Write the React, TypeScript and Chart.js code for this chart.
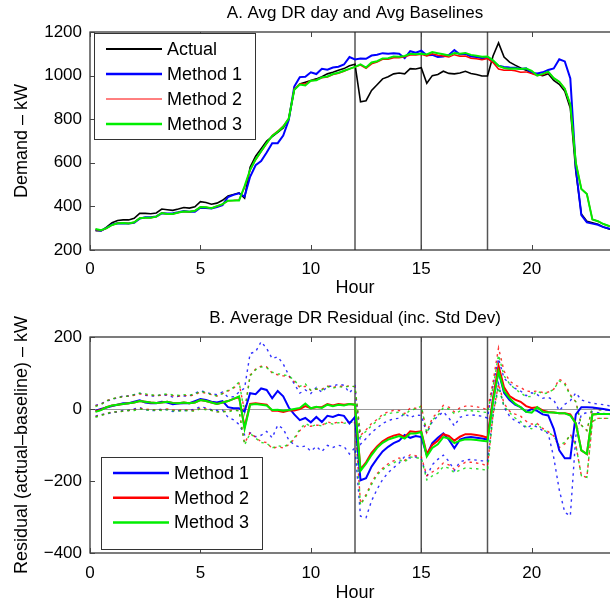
import React, { useEffect, useRef } from 'react';
import { Chart, registerables } from 'chart.js';

Chart.register(...registerables);

const FONT = '"Liberation Sans", Arial, Helvetica, sans-serif';

const hours = [
  0.25, 0.5, 0.75, 1, 1.25, 1.5, 1.75, 2,
  2.25, 2.5, 2.75, 3, 3.25, 3.5, 3.75, 4,
  4.25, 4.5, 4.75, 5, 5.25, 5.5, 5.75, 6,
  6.25, 6.5, 6.75, 7, 7.25, 7.5, 7.75, 8,
  8.25, 8.5, 8.75, 9, 9.25, 9.5, 9.75, 10,
  10.25, 10.5, 10.75, 11, 11.25, 11.5, 11.75, 12,
  12.25, 12.5, 12.75, 13, 13.25, 13.5, 13.75, 14,
  14.25, 14.5, 14.75, 15, 15.25, 15.5, 15.75, 16,
  16.25, 16.5, 16.75, 17, 17.25, 17.5, 17.75, 18,
  18.25, 18.5, 18.75, 19, 19.25, 19.5, 19.75, 20,
  20.25, 20.5, 20.75, 21, 21.25, 21.5, 21.75, 22,
  22.25, 22.5, 22.75, 23, 23.25, 23.5, 23.75, 24,
];

// Average demand on DR days (kW)
const actual = [
  288, 288, 305, 325, 335, 338, 338, 345,
  368, 368, 366, 370, 388, 385, 382, 388,
  395, 392, 398, 422, 418, 410, 415, 428,
  448, 455, 462, 438, 580, 630, 665, 700,
  720, 740, 760, 800, 935, 962, 970, 978,
  985, 995, 1008, 1015, 1025, 1032, 1045, 1052,
  880, 885, 932, 958, 985, 995, 1008, 1012,
  1008, 1032, 1030, 1036, 965, 1000, 1005, 1020,
  1010, 1008, 1012, 1020, 1010, 1005, 998, 998,
  1090, 1150, 1085, 1062, 1048, 1035, 1025, 1012,
  1005, 1000, 1008, 978, 960, 928, 850, 560,
  365, 332, 325, 318, 305, 296, 292, 290,
];

// Average residual (actual - baseline), kW
const resid1 = [
  -5, 0, 4, 8, 12, 16, 16, 20,
  24, 18, 16, 16, 20, 18, 13, 15,
  16, 16, 22, 28, 25, 20, 18, 22,
  5, 2, 2, -7, 44, 41, 57, 53,
  30, 50, 35, 4, -15, -31, -25, -37,
  -22, -36, -19, -22, -16, -19, -40, -22,
  -198, -192, -160, -138, -118, -105, -95, -88,
  -72, -80, -75, -78, -128, -95, -80, -68,
  -85, -109, -85, -80, -78, -80, -82, -85,
  25, 105, 45, 25, 12, 5, -8, 0,
  -5, -15, -18, -55, -115, -137, -137, -15,
  5, 5, 4, 2, 0, -3, -5, -5,
];
const resid2 = [
  -6, -2, 5, 10, 12, 14, 16, 18,
  22, 20, 18, 17, 18, 20, 17, 16,
  18, 16, 18, 25, 22, 18, 14, 18,
  22, 28, 33, -50, 14, 16, 14, 12,
  -5, -5, -8, -4, -4, 0, 8, 2,
  5, 5, 14, 10, 14, 12, 14, 12,
  -168, -148, -122, -104, -90, -80, -74, -70,
  -78, -62, -64, -62, -125, -100, -88, -70,
  -75, -88, -77, -70, -70, -72, -75, -80,
  30, 120, 60, 36, 26, 20, 8, 3,
  5, -4, -8, -10, -12, -12, -15, -40,
  -115, -125, -15, -14, -14, -14, -14, -14,
];
const resid3 = [
  -8, -3, 5, 10, 12, 14, 16, 18,
  22, 20, 18, 17, 18, 20, 17, 16,
  18, 16, 18, 25, 22, 18, 14, 18,
  22, 28, 35, -55, 12, 14, 12, 10,
  -3, -2, -5, -3, 0, 3, 15, 2,
  6, 3, 12, 8, 12, 10, 14, 12,
  -172, -152, -128, -108, -94, -85, -80, -75,
  -82, -68, -68, -64, -132, -108, -98, -78,
  -82, -95, -88, -84, -85, -86, -88, -90,
  20, 105, 50, 30, 15, 5, -8, -10,
  5, -8, -10, -10, -12, -12, -18, -40,
  -115, -125, -15, -14, -14, -14, -14, -14,
];

// Standard deviation of residual, kW
const std1 = [
  15, 15, 18, 18, 20, 20, 20, 20,
  20, 20, 20, 20, 20, 20, 20, 20,
  20, 20, 22, 22, 22, 22, 22, 25,
  28, 32, 45, 65, 110, 118, 130, 115,
  110, 95, 90, 90, 85, 75, 78, 80,
  82, 82, 82, 85, 85, 85, 85, 85,
  100, 110, 95, 85, 78, 72, 68, 62,
  60, 56, 58, 60, 60, 60, 60, 60,
  60, 62, 62, 62, 62, 62, 62, 60,
  40, 35, 40, 45, 45, 45, 45, 45,
  45, 45, 50, 80, 110, 150, 160, 60,
  20, 15, 12, 12, 12, 12, 12, 12,
];
const std2 = [
  15, 15, 18, 18, 20, 20, 20, 20,
  20, 20, 20, 20, 20, 20, 20, 20,
  20, 20, 22, 22, 22, 22, 22, 25,
  28, 30, 38, 45, 80, 95, 105, 105,
  105, 100, 100, 95, 80, 60, 55, 50,
  50, 50, 50, 50, 50, 50, 50, 50,
  95, 90, 82, 75, 75, 72, 70, 66,
  65, 65, 66, 70, 60, 75, 78, 80,
  80, 80, 80, 78, 78, 78, 78, 78,
  45, 50, 45, 42, 40, 40, 42, 45,
  45, 50, 55, 65, 95, 85, 55, 60,
  70, 65, 20, 12, 12, 12, 12, 12,
];
const std3 = [
  15, 15, 18, 18, 20, 20, 20, 22,
  22, 22, 22, 20, 22, 22, 22, 22,
  22, 22, 24, 24, 24, 22, 22, 25,
  30, 32, 40, 45, 80, 95, 105, 105,
  105, 100, 100, 95, 80, 60, 55, 50,
  50, 50, 50, 50, 50, 50, 50, 50,
  95, 90, 82, 75, 75, 72, 70, 66,
  65, 65, 68, 72, 65, 78, 80, 82,
  82, 82, 82, 80, 80, 80, 80, 80,
  40, 45, 42, 40, 40, 40, 42, 45,
  45, 50, 55, 65, 90, 80, 55, 60,
  70, 65, 20, 12, 12, 12, 12, 12,
];

const eventHours = [12, 15, 18];
const xTicks = [0, 5, 10, 15, 20];
const topYTicks = [200, 400, 600, 800, 1000, 1200];
const botYTicks = [-400, -200, 0, 200];

const BLUE = '#0000ff';
const RED = '#ff0000';
const GREEN = '#00ee00';

const pts = (vals: number[]) => hours.map((h, i) => ({ x: h, y: vals[i] }));

type LegendItem = { label: string; color: string; width: number };

function decorPlugin(opts: {
  id: string;
  yTicks: number[];
  zeroLine: boolean;
  legend: { x: number; y: number; w: number; h: number; rowStart: number; rowGap: number; items: LegendItem[] };
}) {
  return {
    id: opts.id,
    beforeDatasetsDraw(chart: any) {
      const { ctx, chartArea: a, scales } = chart;
      ctx.save();
      if (opts.zeroLine) {
        const py = Math.round(scales.y.getPixelForValue(0)) + 0.5;
        ctx.strokeStyle = '#9a9a9a';
        ctx.lineWidth = 1;
        ctx.beginPath();
        ctx.moveTo(a.left, py);
        ctx.lineTo(a.right, py);
        ctx.stroke();
      }
      ctx.strokeStyle = '#555555';
      ctx.lineWidth = 1.5;
      for (const h of eventHours) {
        const px = scales.x.getPixelForValue(h);
        ctx.beginPath();
        ctx.moveTo(px, a.top);
        ctx.lineTo(px, a.bottom);
        ctx.stroke();
      }
      ctx.restore();
    },
    afterDraw(chart: any) {
      const { ctx, chartArea: a, scales } = chart;
      ctx.save();
      // axes box
      ctx.strokeStyle = '#262626';
      ctx.lineWidth = 1.2;
      ctx.strokeRect(a.left, a.top, a.right - a.left, a.bottom - a.top);
      // inward ticks
      ctx.lineWidth = 1;
      ctx.strokeStyle = '#444444';
      const tl = 5;
      for (const v of xTicks) {
        const px = Math.round(scales.x.getPixelForValue(v)) + 0.5;
        ctx.beginPath();
        ctx.moveTo(px, a.bottom);
        ctx.lineTo(px, a.bottom - tl);
        ctx.moveTo(px, a.top);
        ctx.lineTo(px, a.top + tl);
        ctx.stroke();
      }
      for (const v of opts.yTicks) {
        const py = Math.round(scales.y.getPixelForValue(v)) + 0.5;
        ctx.beginPath();
        ctx.moveTo(a.left, py);
        ctx.lineTo(a.left + tl, py);
        ctx.moveTo(a.right, py);
        ctx.lineTo(a.right - tl, py);
        ctx.stroke();
      }
      // legend
      const L = opts.legend;
      ctx.fillStyle = '#ffffff';
      ctx.fillRect(L.x, L.y, L.w, L.h);
      ctx.strokeStyle = '#333333';
      ctx.lineWidth = 1;
      ctx.strokeRect(L.x + 0.5, L.y + 0.5, L.w, L.h);
      ctx.font = `18px ${FONT}`;
      ctx.textBaseline = 'middle';
      ctx.textAlign = 'left';
      L.items.forEach((it, i) => {
        const y = L.rowStart + i * L.rowGap;
        ctx.strokeStyle = it.color;
        ctx.lineWidth = it.width;
        ctx.beginPath();
        ctx.moveTo(L.x + 12, y);
        ctx.lineTo(L.x + 68, y);
        ctx.stroke();
        ctx.fillStyle = '#000000';
        ctx.fillText(it.label, L.x + 73, y + 1);
      });
      ctx.restore();
    },
  };
}

const minusFmt = (v: any) => (Number(v) < 0 ? '\u2212' + Math.abs(Number(v)) : String(v));

function baseScales(opts: {
  yMin: number; yMax: number; yTitle: string; xTickPad: number; xTitlePad: number; xHeight: number;
}) {
  return {
    x: {
      type: 'linear',
      min: 0,
      max: 24,
      grid: { display: false, drawTicks: false },
      border: { display: false },
      ticks: {
        stepSize: 5,
        includeBounds: false,
        padding: opts.xTickPad,
        color: '#000',
        font: { family: FONT, size: 17 },
        maxRotation: 0,
        autoSkip: false,
      },
      title: {
        display: true,
        text: 'Hour',
        color: '#000',
        font: { family: FONT, size: 18 },
        padding: { top: 0, bottom: opts.xTitlePad },
      },
      afterFit: (s: any) => { s.height = opts.xHeight; },
    },
    y: {
      type: 'linear',
      min: opts.yMin,
      max: opts.yMax,
      grid: { display: false, drawTicks: false },
      border: { display: false },
      ticks: {
        stepSize: 200,
        includeBounds: false,
        padding: 8,
        color: '#000',
        font: { family: FONT, size: 17 },
        callback: minusFmt,
      },
      title: {
        display: true,
        text: opts.yTitle,
        color: '#000',
        font: { family: FONT, size: 18 },
        padding: { top: 11, bottom: 0 },
      },
      afterFit: (s: any) => { s.width = 90; },
    },
  };
}

function solid(label: string, vals: number[], color: string, width: number, order: number) {
  return {
    label,
    data: pts(vals),
    borderColor: color,
    backgroundColor: color,
    borderWidth: width,
    pointRadius: 0,
    tension: 0,
    fill: false,
    order,
  };
}

function dotted(label: string, vals: number[], color: string, order: number) {
  return {
    label,
    data: pts(vals),
    borderColor: color,
    borderWidth: 1.4,
    borderDash: [2.5, 4],
    pointRadius: 0,
    tension: 0,
    fill: false,
    order,
  };
}

export default function App() {
  const topRef = useRef<HTMLCanvasElement>(null);
  const botRef = useRef<HTMLCanvasElement>(null);

  useEffect(() => {
    const base1 = actual.map((v, i) => v - resid1[i]);
    const base2 = actual.map((v, i) => v - resid2[i]);
    const base3 = actual.map((v, i) => v - resid3[i]);

    const top = new Chart(topRef.current as HTMLCanvasElement, {
      type: 'line',
      data: {
        datasets: [
          solid('Actual', actual, '#000000', 1.6, 4),
          solid('Method 1', base1, BLUE, 2, 3),
          solid('Method 2', base2, RED, 1.5, 2),
          solid('Method 3', base3, GREEN, 2, 1),
        ] as any,
      },
      options: {
        responsive: false,
        animation: false,
        events: [],
        layout: { padding: { left: 0, right: 20, top: 0, bottom: 0 } },
        plugins: {
          legend: { display: false },
          tooltip: { enabled: false },
          title: {
            display: true,
            fullSize: false,
            text: 'A. Avg DR day and Avg Baselines',
            color: '#000',
            font: { family: FONT, size: 17, weight: 'normal' },
            padding: { top: 3, bottom: 8.6 },
          },
        },
        scales: baseScales({ yMin: 200, yMax: 1200, yTitle: 'Demand \u2013 kW', xTickPad: 9, xTitlePad: 1, xHeight: 50 }) as any,
      } as any,
      plugins: [
        decorPlugin({
          id: 'decorTop',
          yTicks: topYTicks,
          zeroLine: false,
          legend: {
            x: 94, y: 33, w: 161, h: 106, rowStart: 49, rowGap: 25,
            items: [
              { label: 'Actual', color: '#000000', width: 2 },
              { label: 'Method 1', color: BLUE, width: 2.5 },
              { label: 'Method 2', color: RED, width: 1 },
              { label: 'Method 3', color: GREEN, width: 2.5 },
            ],
          },
        }),
      ],
    });

    const up = (m: number[], s: number[]) => m.map((v, i) => v + s[i]);
    const dn = (m: number[], s: number[]) => m.map((v, i) => v - s[i]);

    const bot = new Chart(botRef.current as HTMLCanvasElement, {
      type: 'line',
      data: {
        datasets: [
          solid('Method 1', resid1, BLUE, 2, 3),
          solid('Method 2', resid2, RED, 2, 2),
          solid('Method 3', resid3, GREEN, 2, 1),
          dotted('M1 +sd', up(resid1, std1), 'rgba(0,0,255,0.8)', 9),
          dotted('M1 -sd', dn(resid1, std1), 'rgba(0,0,255,0.8)', 9),
          dotted('M2 +sd', up(resid2, std2), 'rgba(255,0,0,0.8)', 8),
          dotted('M2 -sd', dn(resid2, std2), 'rgba(255,0,0,0.8)', 8),
          dotted('M3 +sd', up(resid3, std3), 'rgba(0,220,0,0.8)', 7),
          dotted('M3 -sd', dn(resid3, std3), 'rgba(0,220,0,0.8)', 7),
        ] as any,
      },
      options: {
        responsive: false,
        animation: false,
        events: [],
        layout: { padding: { left: 0, right: 20, top: 0, bottom: 0 } },
        plugins: {
          legend: { display: false },
          tooltip: { enabled: false },
          title: {
            display: true,
            fullSize: false,
            text: 'B. Average DR Residual (inc. Std Dev)',
            color: '#000',
            font: { family: FONT, size: 17, weight: 'normal' },
            padding: { top: 8, bottom: 8.6 },
          },
        },
        scales: baseScales({ yMin: -400, yMax: 200, yTitle: 'Residual (actual\u2013baseline) \u2013 kW', xTickPad: 10, xTitlePad: 2, xHeight: 53 }) as any,
      } as any,
      plugins: [
        decorPlugin({
          id: 'decorBot',
          yTicks: botYTicks,
          zeroLine: true,
          legend: {
            x: 101, y: 157, w: 161, h: 92, rowStart: 173, rowGap: 24.7,
            items: [
              { label: 'Method 1', color: BLUE, width: 2.5 },
              { label: 'Method 2', color: RED, width: 2.5 },
              { label: 'Method 3', color: GREEN, width: 2.5 },
            ],
          },
        }),
      ],
    });

    return () => {
      top.destroy();
      bot.destroy();
    };
  }, []);

  return (
    <div
      style={{
        position: 'absolute',
        left: 0,
        top: 0,
        width: 610,
        height: 606,
        overflow: 'hidden',
        background: '#ffffff',
      }}
    >
      <canvas ref={topRef} width={640} height={300} style={{ position: 'absolute', left: 0, top: 0 }} />
      <canvas ref={botRef} width={640} height={306} style={{ position: 'absolute', left: 0, top: 300 }} />
    </div>
  );
}
